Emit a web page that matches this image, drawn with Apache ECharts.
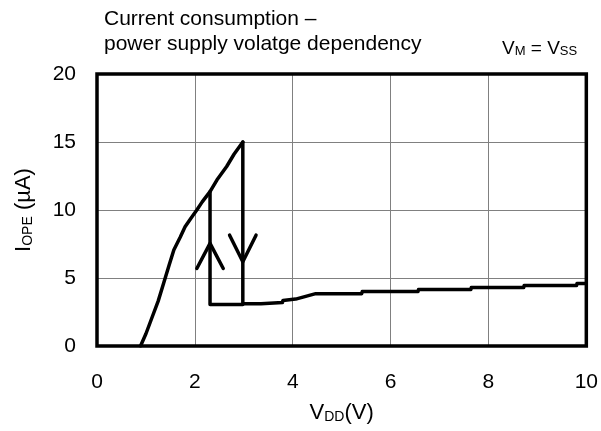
<!DOCTYPE html>
<html>
<head>
<meta charset="utf-8">
<script src="https://cdn.jsdelivr.net/npm/echarts@6/dist/echarts.min.js"></script>
<style>
  html, body { margin: 0; padding: 0; background: #fff; }
  #main { width: 601px; height: 431px; }
</style>
</head>
<body>
<div id="main"></div>
<script>
// 上升段 (V, uA)
var riseV = [0.89, 1.0, 1.13, 1.25, 1.36, 1.47, 1.57, 1.70, 1.80, 1.92, 2.04, 2.15, 2.31, 2.45, 2.65, 2.80, 2.98]
var riseI = [0, 0.9, 2.15, 3.3, 4.6, 5.9, 7.06, 8.0, 8.77, 9.4, 10, 10.6, 11.35, 12.2, 13.2, 14.1, 15.0]
// 下降后平台段
var fallV = [2.98, 2.98, 3.35, 3.36, 3.79, 3.80, 4.06, 4.47, 5.41, 5.42, 6.56, 6.57, 7.64, 7.65, 8.72, 8.73, 9.80, 9.81, 10]
var fallI = [15, 3.1, 3.1, 3.2, 3.2, 3.35, 3.45, 3.85, 3.85, 4.0, 4.0, 4.15, 4.15, 4.3, 4.3, 4.45, 4.45, 4.6, 4.6]
// 回升路径
var returnV = [2.31, 2.31, 2.98]
var returnI = [11.35, 3.05, 3.05]
// 箭头
var upArrowV = [2.04, 2.31, 2.58]
var upArrowI = [5.7, 7.55, 5.7]
var downArrowV = [2.71, 2.98, 3.25]
var downArrowI = [8.15, 6.2, 8.15]

var xTicks = [0, 2, 4, 6, 8, 10]
var yTicks = [0, 5, 10, 15, 20]

function pairs (xs, ys) {
  var out = []
  for (var i = 0; i < xs.length; i++) {
    out.push([xs[i], ys[i]])
  }
  return out
}

function lineSeries (name, xs, ys) {
  return {
    name: name,
    type: 'line',
    data: pairs(xs, ys),
    symbol: 'none',
    smooth: false,
    lineStyle: { color: '#000', width: 3.5, join: 'round', cap: 'round' },
    z: 3
  }
}

var font = 'Liberation Sans, Arial, sans-serif'
var myChart = echarts.init(document.getElementById('main'))
myChart.setOption({
  animation: false,
  title: [
    {
      text: 'Current consumption –\npower supply volatge dependency',
      left: 99,
      top: 2,
      textStyle: { fontFamily: font, fontSize: 21, fontWeight: 'normal', color: '#000', lineHeight: 25 }
    },
    {
      text: '{b|V}{s|M}{b| = V}{s|SS}',
      left: 497,
      top: 29,
      textStyle: {
        rich: {
          b: { fontFamily: font, fontSize: 19, fontWeight: 'normal', color: '#000', verticalAlign: 'bottom', lineHeight: 24 },
          s: { fontFamily: font, fontSize: 13, fontWeight: 'normal', color: '#000', verticalAlign: 'bottom', lineHeight: 18 }
        }
      }
    }
  ],
  grid: {
    left: 97,
    right: 11,
    top: 74,
    bottom: 85,
    show: true,
    borderColor: '#000',
    borderWidth: 3.5,
    z: 4
  },
  xAxis: {
    type: 'value',
    min: 0,
    max: 10,
    interval: 2,
    name: '{b|V}{s|DD}{b|(V)}',
    nameLocation: 'middle',
    nameGap: 52,
    nameTextStyle: {
      rich: {
        b: { fontFamily: font, fontSize: 22, color: '#000', verticalAlign: 'bottom', lineHeight: 26 },
        s: { fontFamily: font, fontSize: 14, color: '#000', verticalAlign: 'bottom', lineHeight: 20 }
      }
    },
    axisLine: { show: false },
    axisTick: { show: false },
    axisLabel: {
      fontFamily: font, fontSize: 21, color: '#000', margin: 26,
      formatter: function (v) { return xTicks.indexOf(v) >= 0 ? String(v) : '' }
    },
    splitLine: { show: true, lineStyle: { color: '#808080', width: 1 } }
  },
  yAxis: {
    type: 'value',
    min: 0,
    max: 20,
    interval: 5,
    name: '{b|I}{s|OPE}{b| (µA)}',
    nameLocation: 'middle',
    nameRotate: 90,
    nameGap: 62,
    nameTextStyle: {
      rich: {
        b: { fontFamily: font, fontSize: 22, color: '#000', verticalAlign: 'bottom', lineHeight: 26 },
        s: { fontFamily: font, fontSize: 14, color: '#000', verticalAlign: 'bottom', lineHeight: 20 }
      }
    },
    axisLine: { show: false },
    axisTick: { show: false },
    axisLabel: {
      fontFamily: font, fontSize: 21, color: '#000', margin: 21,
      formatter: function (v) { return yTicks.indexOf(v) >= 0 ? String(v) : '' }
    },
    splitLine: { show: true, lineStyle: { color: '#808080', width: 1 } }
  },
  series: [
    lineSeries('rise', riseV, riseI),
    lineSeries('fall', fallV, fallI),
    lineSeries('return', returnV, returnI),
    lineSeries('upArrow', upArrowV, upArrowI),
    lineSeries('downArrow', downArrowV, downArrowI)
  ]
})
</script>
</body>
</html>
